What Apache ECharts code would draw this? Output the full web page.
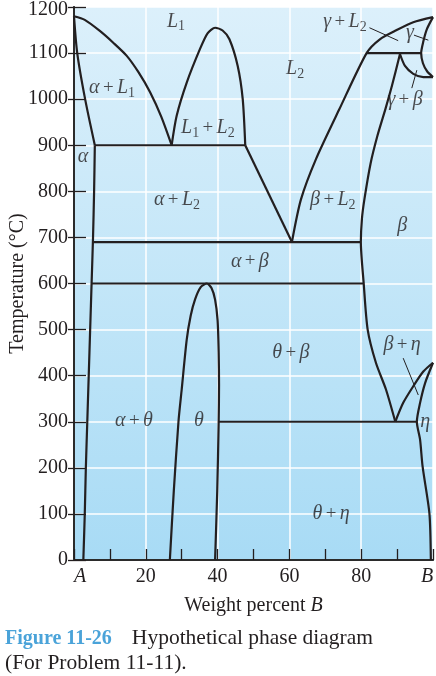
<!DOCTYPE html>
<html><head><meta charset="utf-8">
<script src="https://cdn.jsdelivr.net/npm/echarts@6/dist/echarts.min.js"></script>
<style>html,body{margin:0;padding:0;background:#fff}#c{width:436px;height:676px}</style>
</head><body><div id="c"></div>
<script>
// ---- data (wt% B, temperature °C) ----
const xTicks = [0, 20, 40, 60, 80, 100];
const xTickNames = ['A', '20', '40', '60', '80', 'B'];
const yTicks = [0,100,200,300,400,500,600,700,800,900,1000,1100,1200];

const liquidusL1 = [[0,1180],[3,1172],[7.2,1148],[11,1122],[14.7,1094],[18,1058],[21.2,1015],[24.3,962],[27.2,900]];
const solidusAlpha = [[0,1180],[0.9,1100],[3.1,1000],[5.8,900]];
const solvusAlpha = [[5.8,900],[5.6,800],[5.3,700],[4.9,600],[4.5,500],[4.1,400],[3.7,300],[3.3,200],[3.0,100],[2.6,0]];
const monotectic900 = [[5.8,900],[47.7,900]];
const miscibilityDome = [[27.2,900],[28.6,964],[31.4,1036],[35.1,1109],[37.2,1143],[39.3,1155],[41.4,1149],[43.3,1130],[45.6,1072],[47,1000],[47.7,900]];
const eutecticLeftArm = [[47.7,900],[60.7,690]];
const liquidusL2 = [[60.7,690],[63.2,782],[67.4,870],[73.9,978],[81.5,1100],[85.2,1130],[89.9,1150],[94.5,1167],[100,1178]];
const peritectic1100 = [[81.5,1100],[96.7,1100]];
const gammaBoundary = [[100,1178],[98.3,1152],[97.3,1125],[96.7,1100],[97.2,1078],[98.4,1060],[100,1048]];
const gammaBetaLower = [[90.8,1098],[92.2,1072],[94.5,1055],[97.3,1048],[100,1048]];
const betaLeft = [[90.8,1098],[88.6,1030],[86.8,980],[84.5,920],[82.6,860],[80.9,783],[80.2,740],[79.9,690],[80.7,600],[81.8,500],[84.1,428],[86.9,370],[89.5,300]];
const eutectic690 = [[5.2,690],[79.9,690]];
const monotectoid600 = [[4.9,600],[80.7,600]];
const thetaDome = [[26.7,0],[27.8,150],[29.1,300],[30,370],[31.4,478],[32.5,530],[33.7,565],[35.3,592],[37,600],[38.3,590],[39.3,565],[40,520],[40.3,450],[40.4,380],[40.3,300],[39.9,150],[39.3,0]];
const eutectoid300 = [[40.3,300],[95.5,300]];
const betaRight = [[89.5,300],[91.7,341],[94.5,377],[97.3,409],[100,428]];
const etaLeft = [[99.4,0],[99,101],[97.1,203],[96.4,261],[95.5,300],[96.4,341],[97.8,384],[100,428]];

const leaderGammaL2 = [[82.3,1155],[90.3,1127]];
const leaderGamma = [[94.7,1139],[98.7,1128]];
const leaderGammaBeta = [[95.5,1063],[94.1,1024]];
const leaderBetaEta = [[91.7,438],[95.9,358]];

const regionLabels = [
  ['{i|L}{s|1}', 28.4, 1169],
  ['{i|L}{s|2}', 61.6, 1065],
  ['{i|α} {p|+} {i|L}{s|1}', 10.6, 1024],
  ['{i|L}{s|1} {p|+} {i|L}{s|2}', 37.3, 937],
  ['{i|α}', 2.5, 876],
  ['{i|α} {p|+} {i|L}{s|2}', 28.7, 781],
  ['{i|β} {p|+} {i|L}{s|2}', 72.1, 781],
  ['{i|β}', 91.4, 726],
  ['{i|α} {p|+} {i|β}', 49, 648],
  ['{i|θ} {p|+} {i|β}', 60.4, 450],
  ['{i|β} {p|+} {i|η}', 91.4, 467],
  ['{i|η}', 97.8, 300],
  ['{i|α} {p|+} {i|θ}', 16.7, 302],
  ['{i|θ}', 34.8, 302],
  ['{i|θ} {p|+} {i|η}', 71.6, 100],
  ['{i|γ} {p|+} {i|L}{s|2}', 75.5, 1167],
  ['{i|γ}', 93.6, 1144],
  ['{i|γ} {p|+} {i|β}', 92.2, 998]
];

const boundaries = [liquidusL1, solidusAlpha, solvusAlpha, monotectic900, miscibilityDome, eutecticLeftArm,
  liquidusL2, peritectic1100, gammaBoundary, gammaBetaLower, betaLeft, eutectic690, monotectoid600,
  thetaDome, eutectoid300, betaRight, etaLeft];
const straight = new Set([monotectic900, eutecticLeftArm, peritectic1100, eutectic690, monotectoid600, eutectoid300]);
const leaders = [leaderGammaL2, leaderGamma, leaderGammaBeta, leaderBetaEta];

const SERIF = 'Liberation Serif';
const INK = '#231f20';

const series = [];
boundaries.forEach(d => series.push({
  type: 'line', data: d, showSymbol: false, symbol: 'none', smooth: straight.has(d) ? false : 0.25,
  lineStyle: { color: INK, width: 2.2 }, z: 3, silent: true
}));
leaders.forEach(d => series.push({
  type: 'line', data: d, showSymbol: false, symbol: 'none',
  lineStyle: { color: INK, width: 1 }, z: 3, silent: true
}));
series.push({
  type: 'scatter', symbolSize: 0, z: 5, silent: true,
  data: regionLabels.map(r => ({ name: r[0], value: [r[1], r[2]] })),
  label: {
    show: true, position: 'inside', formatter: p => p.name,
    rich: {
      i: { fontFamily: SERIF, fontStyle: 'italic', fontSize: 20, color: INK, lineHeight: 24 },
      p: { fontFamily: SERIF, fontSize: 19, color: INK, lineHeight: 24 },
      s: { fontFamily: SERIF, fontSize: 14, color: INK, lineHeight: 14, padding: [11, 0, 0, 0] }
    }
  }
});

const chart = echarts.init(document.getElementById('c'), null, { renderer: 'canvas' });
chart.setOption({
  animation: false,
  backgroundColor: '#ffffff',
  title: {
    left: 0, top: 621,
    text: '{b|Figure 11-26}    {n|Hypothetical phase diagram}\n{n|(For Problem 11-11).}',
    textStyle: {
      fontWeight: 'normal',
      rich: {
        b: { fontFamily: SERIF, fontWeight: 'bold', fontSize: 20, color: '#4aa3d9', lineHeight: 25 },
        n: { fontFamily: SERIF, fontWeight: 'normal', fontSize: 21.5, color: INK, lineHeight: 25 }
      }
    }
  },
  grid: {
    left: 74, right: 3, top: 7, bottom: 116, show: true, borderWidth: 0,
    containLabel: false, outerBoundsMode: 'none',
    backgroundColor: { type: 'linear', x: 0, y: 0, x2: 0, y2: 1,
      colorStops: [{ offset: 0, color: '#dcf0fb' }, { offset: 0.5, color: '#c3e6f8' }, { offset: 1, color: '#a8dbf5' }] }
  },
  xAxis: [{
    type: 'value', min: 0, max: 100, interval: 20, position: 'bottom',
    axisLine: { lineStyle: { color: '#7b858c', width: 2 } },
    axisTick: { inside: true, length: 11, lineStyle: { color: INK, width: 1.3 } },
    minorTick: { show: true, splitNumber: 2, length: 11, lineStyle: { color: INK, width: 1.3 } },
    splitLine: { show: true, lineStyle: { color: '#ffffff', width: 1.5 } },
    axisLabel: {
      margin: 7, fontFamily: SERIF, fontSize: 20, color: INK,
      formatter: v => { const k = xTicks.indexOf(v); const t = k >= 0 ? xTickNames[k] : String(v);
        return t === 'A' ? '{a|A}' : t === 'B' ? '{b|B}' : t; },
      rich: {
        a: { fontFamily: SERIF, fontStyle: 'italic', fontSize: 20, color: INK, padding: [0, 0, 0, 12] },
        b: { fontFamily: SERIF, fontStyle: 'italic', fontSize: 20, color: INK, padding: [0, 12, 0, 0] }
      }
    },
    name: 'Weight percent {i|B}', nameLocation: 'middle', nameGap: 36, nameMoveOverlap: false,
    nameTextStyle: { fontFamily: SERIF, fontSize: 20, color: INK,
      rich: { i: { fontFamily: SERIF, fontStyle: 'italic', fontSize: 20, color: INK } } }
  }, {
    type: 'value', min: 0, max: 100, position: 'top',
    axisLine: { lineStyle: { color: '#2b2b2b', width: 2 } },
    axisTick: { show: false }, axisLabel: { show: false }, splitLine: { show: false }
  }],
  yAxis: [{
    type: 'value', min: 0, max: 1200, interval: 100, position: 'left',
    axisLine: { lineStyle: { color: '#7b858c', width: 2 } },
    axisTick: { inside: true, length: 12, lineStyle: { color: INK, width: 1.3 } },
    splitLine: { show: true, lineStyle: { color: '#ffffff', width: 1.5 } },
    axisLabel: { margin: 6, fontFamily: SERIF, fontSize: 20, color: INK,
      formatter: v => yTicks.indexOf(v) < 0 ? '' : (v === 1200 ? '{t|1200}' : String(v)),
      rich: { t: { fontFamily: SERIF, fontSize: 20, color: INK, padding: [5, 0, 0, 0] } } },
    name: 'Temperature (°C)', nameLocation: 'middle', nameGap: 46, nameRotate: 90, nameMoveOverlap: false,
    nameTextStyle: { fontFamily: SERIF, fontSize: 20, color: INK }
  }, {
    type: 'value', min: 0, max: 1200, interval: 100, position: 'right',
    axisLine: { show: true, lineStyle: { color: '#2b2b2b', width: 2 } },
    axisTick: { show: true, inside: true, length: 6, lineStyle: { color: INK, width: 1.3 } },
    axisLabel: { show: false }, splitLine: { show: false }
  }],
  series: series
});
</script>
</body></html>
